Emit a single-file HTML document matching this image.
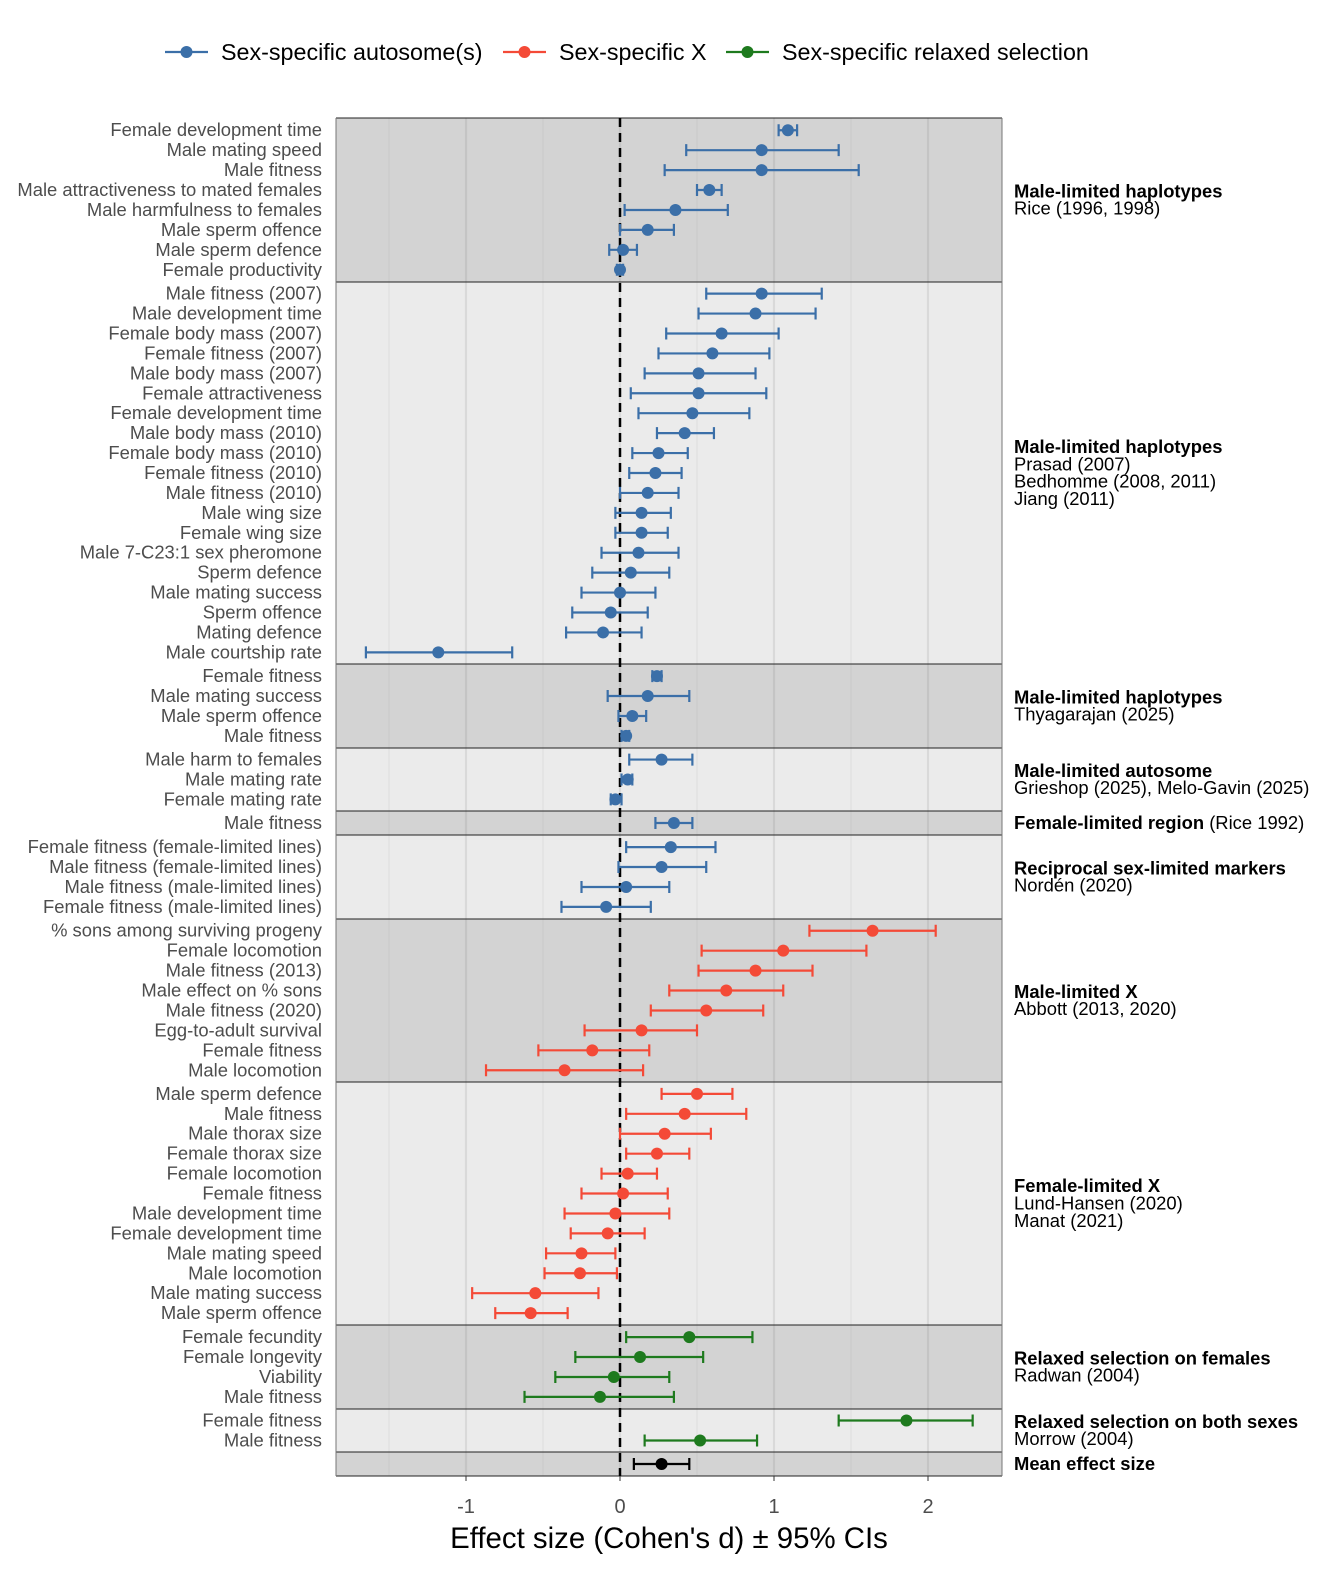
<!DOCTYPE html>
<html><head><meta charset="utf-8"><style>
body{margin:0;background:#fff;}
svg{display:block;font-family:"Liberation Sans",Arial,sans-serif;}
</style></head><body>
<svg id="chart" width="1344" height="1574" viewBox="0 0 1344 1574"></svg>
<script>
const labels1=["Female development time","Male mating speed","Male fitness","Male attractiveness to mated females","Male harmfulness to females","Male sperm offence","Male sperm defence","Female productivity"];
const est1=[1.09,0.92,0.92,0.58,0.36,0.18,0.02,0.0];
const lo1=[1.03,0.43,0.29,0.50,0.03,0.0,-0.07,-0.02];
const hi1=[1.15,1.42,1.55,0.66,0.70,0.35,0.11,0.02];
const labels2=["Male fitness (2007)","Male development time","Female body mass (2007)","Female fitness (2007)","Male body mass (2007)","Female attractiveness","Female development time","Male body mass  (2010)","Female body mass (2010)","Female fitness (2010)","Male fitness  (2010)","Male wing size","Female wing size","Male 7-C23:1 sex pheromone","Sperm defence","Male mating success","Sperm offence","Mating defence","Male courtship rate"];
const est2=[0.92,0.88,0.66,0.60,0.51,0.51,0.47,0.42,0.25,0.23,0.18,0.14,0.14,0.12,0.07,0.0,-0.06,-0.11,-1.18];
const lo2=[0.56,0.51,0.30,0.25,0.16,0.07,0.12,0.24,0.08,0.06,0.0,-0.03,-0.03,-0.12,-0.18,-0.25,-0.31,-0.35,-1.65];
const hi2=[1.31,1.27,1.03,0.97,0.88,0.95,0.84,0.61,0.44,0.40,0.38,0.33,0.31,0.38,0.32,0.23,0.18,0.14,-0.70];
const labels3=["Female fitness","Male mating success","Male sperm offence","Male fitness"];
const est3=[0.24,0.18,0.08,0.04];
const lo3=[0.21,-0.08,-0.01,0.01];
const hi3=[0.27,0.45,0.17,0.06];
const labels4=["Male harm to females","Male mating rate","Female mating rate"];
const est4=[0.27,0.05,-0.03];
const lo4=[0.06,0.01,-0.06];
const hi4=[0.47,0.08,0.01];
const labels5=["Male fitness"];
const est5=[0.35];
const lo5=[0.23];
const hi5=[0.47];
const labels6=["Female fitness (female-limited lines)","Male fitness (female-limited lines)","Male fitness (male-limited lines)","Female fitness (male-limited lines)"];
const est6=[0.33,0.27,0.04,-0.09];
const lo6=[0.04,-0.01,-0.25,-0.38];
const hi6=[0.62,0.56,0.32,0.20];
const labels7=["% sons among surviving progeny","Female locomotion","Male fitness (2013)","Male effect on % sons","Male fitness (2020)","Egg-to-adult survival","Female fitness","Male locomotion"];
const est7=[1.64,1.06,0.88,0.69,0.56,0.14,-0.18,-0.36];
const lo7=[1.23,0.53,0.51,0.32,0.20,-0.23,-0.53,-0.87];
const hi7=[2.05,1.60,1.25,1.06,0.93,0.50,0.19,0.15];
const labels8=["Male sperm defence","Male fitness","Male thorax size","Female thorax size","Female locomotion","Female fitness","Male development time","Female development time","Male mating speed","Male locomotion","Male mating success","Male sperm offence"];
const est8=[0.50,0.42,0.29,0.24,0.05,0.02,-0.03,-0.08,-0.25,-0.26,-0.55,-0.58];
const lo8=[0.27,0.04,0.0,0.04,-0.12,-0.25,-0.36,-0.32,-0.48,-0.49,-0.96,-0.81];
const hi8=[0.73,0.82,0.59,0.45,0.24,0.31,0.32,0.16,-0.03,-0.02,-0.14,-0.34];
const labels9=["Female fecundity","Female longevity","Viability","Male fitness"];
const est9=[0.45,0.13,-0.04,-0.13];
const lo9=[0.04,-0.29,-0.42,-0.62];
const hi9=[0.86,0.54,0.32,0.35];
const labels10=["Female fitness","Male fitness"];
const est10=[1.86,0.52];
const lo10=[1.42,0.16];
const hi10=[2.29,0.89];
const labels11=[""];
const est11=[0.27];
const lo11=[0.09];
const hi11=[0.45];
const xTicks=[-1,0,1,2];
const xMinor=[-1.5,-0.5,0.5,1.5];

const NS="http://www.w3.org/2000/svg";
const svg=document.getElementById('chart');
const X0=620,XS=154,PL=336,PR=1002,TOP=118,ROW=19.93;
function xs(v){return X0+v*XS;}
function mk(t,a,p){const e=document.createElementNS(NS,t);for(const k in a)e.setAttribute(k,a[k]);(p||svg).appendChild(e);return e;}
const BLUE="#3b6fa8",RED="#f44a37",GREEN="#1e7a1e",BLACK="#000";
const panels=[
 {l:labels1,e:est1,lo:lo1,hi:hi1,c:BLUE,ann:[["b","Male-limited haplotypes"],["n","Rice (1996, 1998)"]],name:"rice-panel"},
 {l:labels2,e:est2,lo:lo2,hi:hi2,c:BLUE,ann:[["b","Male-limited haplotypes"],["n","Prasad (2007)"],["n","Bedhomme (2008, 2011)"],["n","Jiang (2011)"]],name:"prasad-panel"},
 {l:labels3,e:est3,lo:lo3,hi:hi3,c:BLUE,ann:[["b","Male-limited haplotypes"],["n","Thyagarajan (2025)"]],name:"thyagarajan-panel"},
 {l:labels4,e:est4,lo:lo4,hi:hi4,c:BLUE,ann:[["b","Male-limited autosome"],["n","Grieshop (2025), Melo-Gavin (2025)"]],name:"grieshop-panel"},
 {l:labels5,e:est5,lo:lo5,hi:hi5,c:BLUE,ann:[["m","Female-limited region"," (Rice 1992)"]],name:"rice1992-panel"},
 {l:labels6,e:est6,lo:lo6,hi:hi6,c:BLUE,ann:[["b","Reciprocal sex-limited markers"],["n","Nordén (2020)"]],name:"norden-panel"},
 {l:labels7,e:est7,lo:lo7,hi:hi7,c:RED,ann:[["b","Male-limited X"],["n","Abbott (2013, 2020)"]],name:"abbott-panel"},
 {l:labels8,e:est8,lo:lo8,hi:hi8,c:RED,ann:[["b","Female-limited X"],["n","Lund-Hansen (2020)"],["n","Manat (2021)"]],name:"lundhansen-panel"},
 {l:labels9,e:est9,lo:lo9,hi:hi9,c:GREEN,ann:[["b","Relaxed selection on females"],["n","Radwan (2004)"]],name:"radwan-panel"},
 {l:labels10,e:est10,lo:lo10,hi:hi10,c:GREEN,ann:[["b","Relaxed selection on both sexes"],["n","Morrow (2004)"]],name:"morrow-panel"},
 {l:labels11,e:est11,lo:lo11,hi:hi11,c:BLACK,ann:[["b","Mean effect size"]],name:"mean-panel"}
];
const bounds=[118,282,664,748,811,835,919,1082,1325,1409,1452,1476];
panels.forEach((p,i)=>{
 const r=mk('rect',{x:PL,y:bounds[i],width:PR-PL,height:bounds[i+1]-bounds[i],fill:i%2===0?"#d3d3d3":"#ebebeb"});
 
 
});
panels.forEach((p,i)=>{
 const dark=i%2===0;
 xMinor.forEach(v=>{mk('line',{x1:xs(v),x2:xs(v),y1:bounds[i],y2:bounds[i+1],stroke:dark?"#c9c9c9":"#dedede","stroke-width":1});});
 xTicks.forEach(v=>{mk('line',{x1:xs(v),x2:xs(v),y1:bounds[i],y2:bounds[i+1],stroke:dark?"#c4c4c4":"#d9d9d9","stroke-width":2.2});});
});
bounds.forEach(b=>{mk('line',{x1:PL,x2:PR,y1:b,y2:b,stroke:"#222","stroke-width":1});});
mk('line',{x1:PL,x2:PL,y1:TOP,y2:1476,stroke:"#777","stroke-width":1});
mk('line',{x1:PR,x2:PR,y1:TOP,y2:1476,stroke:"#777","stroke-width":1});
const z=mk('line',{x1:xs(0),x2:xs(0),y1:TOP,y2:1476,stroke:"#000","stroke-width":2.5,"stroke-dasharray":"9,6"});


panels.forEach((p,i)=>{
 const top=bounds[i],bot=bounds[i+1];
 const n=p.l.length;
 const y0=(top+bot)/2-(n-1)*ROW/2;
 const g=mk('g',{});
 
 
 p.l.forEach((lab,j)=>{
  const yy=y0+j*ROW;
  if(lab){
   const t=mk('text',{x:322,y:yy+6,"text-anchor":"end","font-size":"18.4",fill:"#4d4d4d"},g);
   t.textContent=lab;
   
   
  }
  const a=xs(p.lo[j]),b=xs(p.hi[j]);
  const ci=mk('path',{d:`M${a},${yy}H${b}M${a},${yy-6}V${yy+6}M${b},${yy-6}V${yy+6}`,stroke:p.c,"stroke-width":2.2,fill:"none"},g);
  
  
  const c=mk('circle',{cx:xs(p.e[j]),cy:yy,r:6,fill:p.c},g);
  
  
 });
 const na=p.ann.length,LH=17.4;
 const ay0=(top+bot)/2-(na-1)*LH/2;
 p.ann.forEach((an,k)=>{
  const t=mk('text',{x:1014,y:ay0+k*LH+6,"font-size":"18.4",fill:"#000"});
  
  
  if(an[0]==="b"){t.setAttribute('font-weight','bold');t.textContent=an[1];}
  else if(an[0]==="n"){t.textContent=an[1];}
  else{const s1=mk('tspan',{"font-weight":"bold"},t);s1.textContent=an[1];const s2=mk('tspan',{},t);s2.textContent=an[2];}
 });
});
xTicks.forEach(v=>{
 mk('line',{x1:xs(v),x2:xs(v),y1:1476,y2:1481,stroke:"#333","stroke-width":1});
 const t=mk('text',{x:xs(v),y:1513,"text-anchor":"middle","font-size":"20",fill:"#4d4d4d"});
 t.textContent=v;
 
 
});
const xt=mk('text',{x:669,y:1548,"text-anchor":"middle","font-size":"29.4",fill:"#000"});
xt.textContent="Effect size (Cohen's d) ± 95% CIs";


const leg=[["Sex-specific autosome(s)",BLUE,165],["Sex-specific X",RED,503],["Sex-specific relaxed selection",GREEN,726]];
leg.forEach(l=>{
 const g=mk('g',{});
 
 
 mk('line',{x1:l[2],x2:l[2]+43,y1:52,y2:52,stroke:l[1],"stroke-width":2.2},g);
 mk('circle',{cx:l[2]+21.5,cy:52,r:6,fill:l[1]},g);
 const t=mk('text',{x:l[2]+56,y:60,"font-size":"23.3",fill:"#000"},g);
 t.textContent=l[0];
});
</script>
</body></html>
